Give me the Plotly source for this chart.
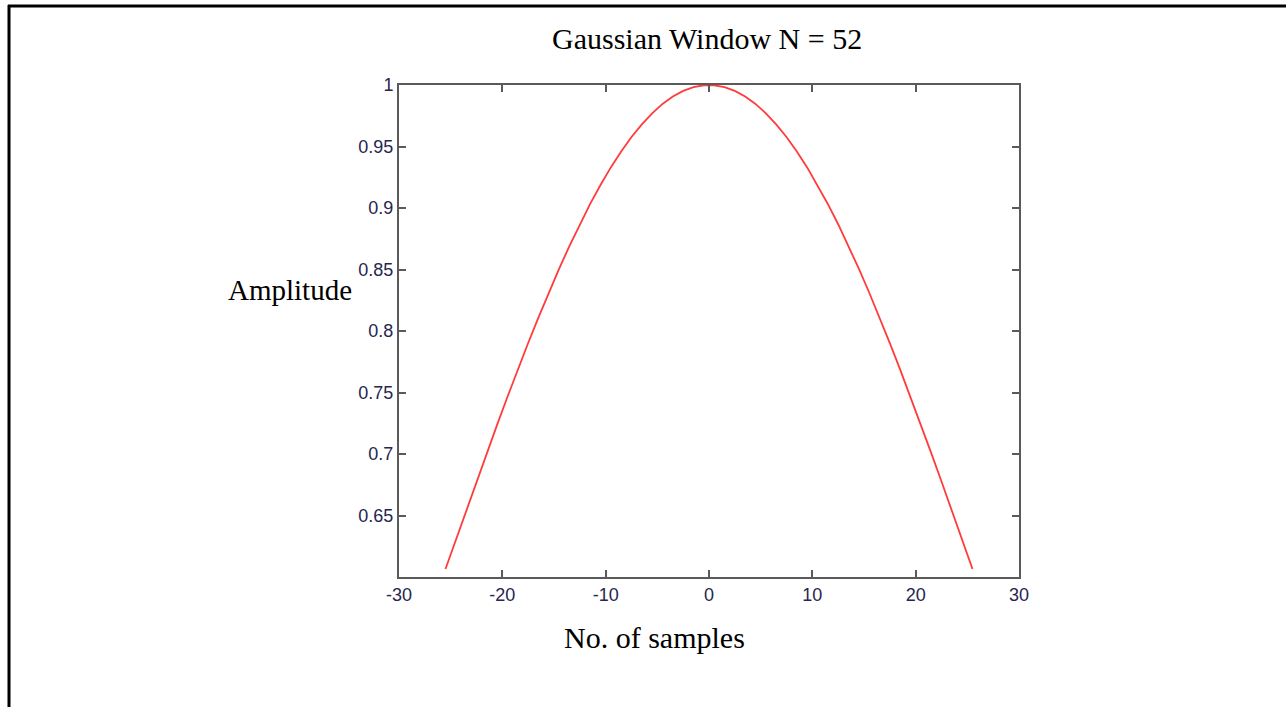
import plotly.graph_objects as go

# Data: Gaussian window, N = 52 samples
samples = [-25.5, -24.5, -23.5, -22.5, -21.5, -20.5, -19.5, -18.5, -17.5, -16.5,
           -15.5, -14.5, -13.5, -12.5, -11.5, -10.5, -9.5, -8.5, -7.5, -6.5,
           -5.5, -4.5, -3.5, -2.5, -1.5, -0.5, 0.5, 1.5, 2.5, 3.5,
           4.5, 5.5, 6.5, 7.5, 8.5, 9.5, 10.5, 11.5, 12.5, 13.5,
           14.5, 15.5, 16.5, 17.5, 18.5, 19.5, 20.5, 21.5, 22.5, 23.5,
           24.5, 25.5]
amplitude = [0.6065, 0.6303, 0.6540, 0.6776, 0.7009, 0.7239, 0.7465, 0.7686, 0.7902, 0.8111,
             0.8313, 0.8507, 0.8692, 0.8868, 0.9033, 0.9187, 0.9330, 0.9460, 0.9577, 0.9680,
             0.9770, 0.9846, 0.9906, 0.9952, 0.9983, 0.9998, 0.9998, 0.9983, 0.9952, 0.9906,
             0.9846, 0.9770, 0.9680, 0.9577, 0.9460, 0.9330, 0.9187, 0.9033, 0.8868, 0.8692,
             0.8507, 0.8313, 0.8111, 0.7902, 0.7686, 0.7465, 0.7239, 0.7009, 0.6776, 0.6540,
             0.6303, 0.6065]

x_ticks = [-30, -20, -10, 0, 10, 20, 30]
y_ticks = [0.65, 0.7, 0.75, 0.8, 0.85, 0.9, 0.95, 1]
y_tick_text = ["0.65", "0.7", "0.75", "0.8", "0.85", "0.9", "0.95", "1"]

title_text = "Gaussian Window N = 52"
x_label = "No. of samples"
y_label = "Amplitude"

W, H = 1286, 707
L, R, T, B = 399, 1019, 85, 577


def px(xp):
    return (xp - L) / (R - L)


def py(yp):
    return (B - yp) / (B - T)


fig = go.Figure()
fig.add_trace(go.Scatter(x=samples, y=amplitude, mode="lines",
                         line=dict(color="#ff3b3b", width=1.8),
                         hoverinfo="skip", showlegend=False))

tick_font = dict(family="Liberation Sans, Arial, sans-serif", size=18, color="#26264f")
axis_common = dict(showline=True, linecolor="#5a5a5a", linewidth=2, mirror="ticks",
                   ticks="inside", ticklen=7, tickwidth=2, tickcolor="#5a5a5a",
                   showgrid=False, zeroline=False, tickfont=tick_font)

fig.update_xaxes(range=[-30, 30], tickmode="array", tickvals=x_ticks,
                 ticktext=[str(v) for v in x_ticks], **axis_common)
fig.update_yaxes(range=[0.6, 1], tickmode="array", tickvals=y_ticks,
                 ticktext=y_tick_text, **axis_common)

serif = "Liberation Serif, Times New Roman, serif"
fig.update_layout(
    width=W, height=H,
    margin=dict(l=L, r=W - R, t=T, b=H - B, pad=0),
    paper_bgcolor="white", plot_bgcolor="white",
    annotations=[
        dict(text=title_text, x=px(707), y=py(39), xref="paper", yref="paper",
             xanchor="center", yanchor="middle", showarrow=False,
             font=dict(family=serif, size=30, color="black")),
        dict(text=x_label, x=px(654), y=py(637), xref="paper", yref="paper",
             xanchor="center", yanchor="middle", showarrow=False,
             font=dict(family=serif, size=30, color="black")),
        dict(text=y_label, x=px(290), y=py(290), xref="paper", yref="paper",
             xanchor="center", yanchor="middle", showarrow=False,
             font=dict(family=serif, size=29, color="black")),
    ],
    shapes=[
        dict(type="line", xref="paper", yref="paper", x0=px(8), x1=px(1290),
             y0=py(6), y1=py(6), line=dict(color="black", width=3)),
        dict(type="line", xref="paper", yref="paper", x0=px(9), x1=px(9),
             y0=py(5), y1=py(710), line=dict(color="black", width=3)),
    ],
)

fig.write_html("out.html")
